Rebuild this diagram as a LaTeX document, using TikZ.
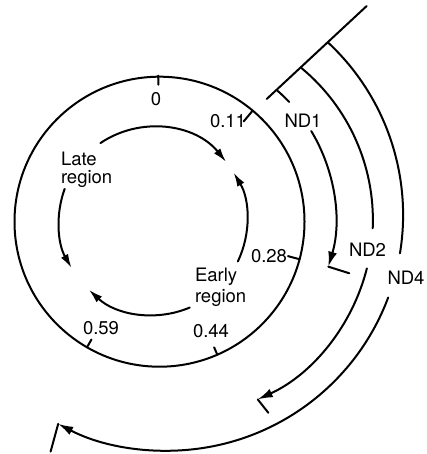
\documentclass[tikz,border=0pt]{standalone}
\usepackage{fontspec}
\setmainfont{TeX Gyre Heros}
\usetikzlibrary{arrows.meta}
\begin{document}
\begin{tikzpicture}[x=1pt,y=1pt,line width=2pt,line cap=round,
  lbl/.style={font=\fontsize{18.5}{20}\selectfont,inner sep=0pt},
  arr/.style={-{Latex[length=14pt,width=8pt]}},
  ndarr/.style={-{Latex[length=15pt,width=9pt]}}]
\useasboundingbox (0,0) rectangle (427,-454);
% centres
\coordinate (C) at (159.5,-221.7);
\coordinate (I) at (153,-221);
\coordinate (K1) at (166.4,-218.1);
\coordinate (K2) at (175.6,-220);
\coordinate (K4) at (167.4,-215);
% genome circle
\draw (C) circle[radius=145];
% ticks
\draw ([shift={(90.5:137)}]C) -- ([shift={(90.5:146)}]C);
\draw ([shift={(50:131)}]C) -- ([shift={(50:145)}]C);
\draw ([shift={(-15:133)}]C) -- ([shift={(-15:145)}]C);
\draw ([shift={(-66.5:137)}]C) -- ([shift={(-66.5:145)}]C);
\draw ([shift={(-120:136)}]C) -- ([shift={(-120:145)}]C);
% tick labels
\node[lbl] (t0) at (156,-99) {0};
\node[lbl] (t11) at (228,-121) {0.11};
\node[lbl] (t28) at (269,-256.5) {0.28};
\node[lbl] (t44) at (211,-331.5) {0.44};
\node[lbl] (t59) at (101,-328.5) {0.59};
% region labels
\node[lbl,font=\fontsize{18.5}{18}\selectfont,align=left,anchor=north west] (late) at (60,-151.5) {Late\\region};
\node[lbl,font=\fontsize{18.5}{20.5}\selectfont,align=left,anchor=north west] (early) at (194,-267.2) {Early\\region};
% inner arrows
\draw[arr] ([shift={(124:94)}]I) arc[start angle=124,end angle=39,radius=94];
\draw[arr] ([shift={(-25.5:94)}]I) arc[start angle=-25.5,end angle=31,radius=94];
\draw[arr] ([shift={(160:94)}]I) arc[start angle=160,end angle=210,radius=94];
\draw[arr] ([shift={(-67:94)}]I) arc[start angle=-67,end angle=-133,radius=94];
% diagonal origin line
\coordinate (dA) at (266.7,-99);
\coordinate (dB) at (366.7,-6);
\draw (dA) -- (dB);
% ND1
\draw ([shift={(49.3:169)}]K1) arc[start angle=49.3,end angle=43.4,radius=169];
\node[lbl] (nd1) at (303,-120.5) {ND1};
\draw[ndarr] ([shift={(31:169)}]K1) arc[start angle=31,end angle=-16.7,radius=169] coordinate (e1);
\draw (e1) -- ++(21,-6.6);
% ND2
\draw ([shift={(50.3:197.3)}]K2) arc[start angle=50.3,end angle=-2.4,radius=197.3];
\node[lbl] (nd2) at (367.5,-249.5) {ND2};
\draw[ndarr] ([shift={(-14.2:197.3)}]K2) arc[start angle=-14.2,end angle=-65.4,radius=197.3] coordinate (e2);
\draw (e2) -- ++(10.6,-13.4);
% ND4
\draw ([shift={(47:235.7)}]K4) arc[start angle=47,end angle=-9.35,radius=235.7];
\node[lbl] (nd4) at (406,-277.5) {ND4};
\draw[ndarr] ([shift={(-20.5:235.7)}]K4) arc[start angle=-20.5,end angle=-117.6,radius=235.7] coordinate (e4);
\draw (e4) -- ++(-7.6,-27.7);
\end{tikzpicture}
\end{document}
